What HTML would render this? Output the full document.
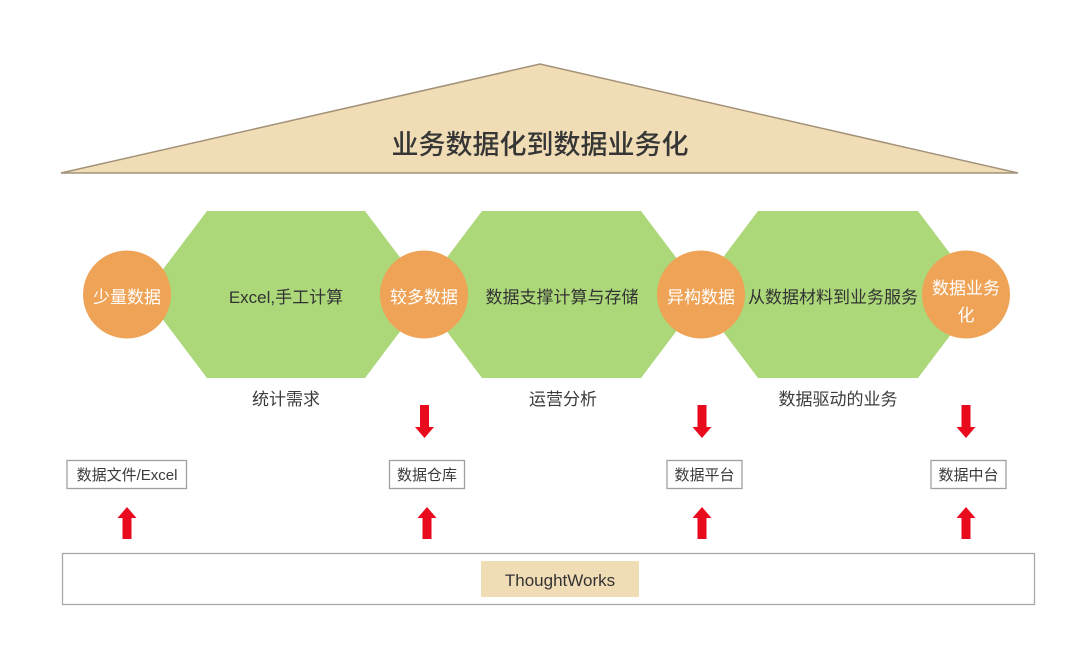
<!DOCTYPE html>
<html><head><meta charset="utf-8"><style>
html,body{margin:0;padding:0;background:#fff;}
svg{display:block;}
text{font-family:"Liberation Sans","Noto Sans CJK SC",sans-serif;}
</style></head><body>
<svg width="1080" height="655" viewBox="0 0 1080 655" xmlns="http://www.w3.org/2000/svg">
<!-- roof triangle -->
<polygon points="61,173 540,64 1018,173" fill="#f0dcb5" stroke="#a39279" stroke-width="1.5"/>
<text x="540" y="154" font-size="27" font-weight="500" fill="#363636" text-anchor="middle">业务数据化到数据业务化</text>

<!-- hexagons -->
<g fill="#acd87a">
<polygon points="144,294.5 207,211 365,211 428,294.5 365,378 207,378"/>
<polygon points="419,294.5 482,211 641,211 704,294.5 641,378 482,378"/>
<polygon points="695,294.5 758,211 918,211 981,294.5 918,378 758,378"/>
</g>
<!-- circles -->
<g fill="#eea357">
<circle cx="127" cy="294.5" r="44"/>
<circle cx="424" cy="294.5" r="44"/>
<circle cx="701" cy="294.5" r="44"/>
<circle cx="966" cy="294.5" r="44"/>
</g>
<g font-size="17" fill="#ffffff" text-anchor="middle">
<text x="127" y="303">少量数据</text>
<text x="424" y="303">较多数据</text>
<text x="701" y="303">异构数据</text>
<text x="966" y="294">数据业务</text>
<text x="966" y="321">化</text>
</g>
<g font-size="17" fill="#333" text-anchor="middle">
<text x="286" y="303">Excel,手工计算</text>
<text x="562" y="303">数据支撑计算与存储</text>
<text x="833" y="303">从数据材料到业务服务</text>
</g>
<g font-size="17" fill="#3c3c3c" text-anchor="middle">
<text x="286" y="405">统计需求</text>
<text x="563" y="405">运营分析</text>
<text x="838" y="405">数据驱动的业务</text>
</g>

<!-- down arrows -->
<g fill="#ea0a1e">
<polygon points="420,405 429,405 429,427 434,427 424.5,438 415,427 420,427"/>
<polygon points="697.5,405 706.5,405 706.5,427 711.5,427 702,438 692.5,427 697.5,427"/>
<polygon points="961.5,405 970.5,405 970.5,427 975.5,427 966,438 956.5,427 961.5,427"/>
<!-- up arrows -->
<polygon points="122.5,539 131.5,539 131.5,518 136.5,518 127,507 117.5,518 122.5,518"/>
<polygon points="422.5,539 431.5,539 431.5,518 436.5,518 427,507 417.5,518 422.5,518"/>
<polygon points="697.5,539 706.5,539 706.5,518 711.5,518 702,507 692.5,518 697.5,518"/>
<polygon points="961.5,539 970.5,539 970.5,518 975.5,518 966,507 956.5,518 961.5,518"/>
</g>

<!-- small boxes -->
<g fill="#fff" stroke="#a0a0a0" stroke-width="1.3">
<rect x="67" y="460.5" width="119.5" height="28"/>
<rect x="389.5" y="460.5" width="75" height="28"/>
<rect x="667" y="460.5" width="75" height="28"/>
<rect x="931" y="460.5" width="75" height="28"/>
</g>
<g font-size="15" fill="#3a3a3a" text-anchor="middle">
<text x="127" y="480">数据文件/Excel</text>
<text x="427" y="480">数据仓库</text>
<text x="704.5" y="480">数据平台</text>
<text x="968.5" y="480">数据中台</text>
</g>

<!-- bottom box -->
<rect x="62.5" y="553.5" width="972" height="51" fill="#fff" stroke="#a8a8a8" stroke-width="1.3"/>
<rect x="481" y="561" width="158" height="36" fill="#f0dcb5"/>
<text x="560" y="586" font-size="17" fill="#333" text-anchor="middle">ThoughtWorks</text>
</svg>
</body></html>
